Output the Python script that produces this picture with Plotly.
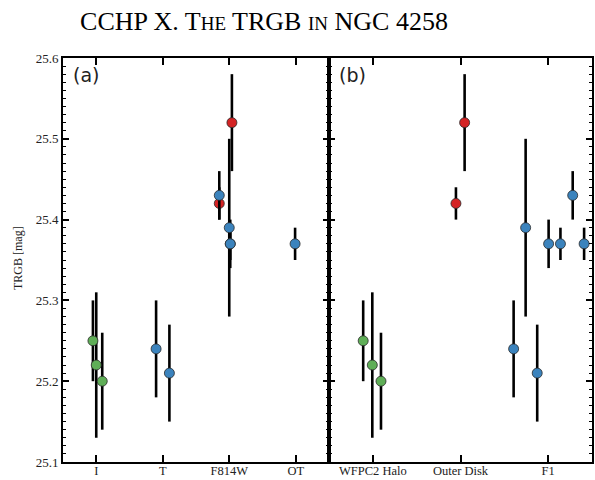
import plotly.graph_objects as go

# panel (a): grouped by filter / method
a_categories = ["I", "T", "F814W", "OT"]
# panel (b): grouped by field
b_categories = ["WFPC2 Halo", "Outer Disk", "F1"]

# green points (WFPC2 halo, I band)
green_a_cat = [0, 0, 0]
green_b_cat = [0, 0, 0]
green_trgb = [25.25, 25.22, 25.20]
green_err = [0.05, 0.09, 0.06]

# red points (outer disk, F814W)
red_a_cat = [2, 2]
red_b_cat = [1, 1]
red_trgb = [25.42, 25.52]
red_err = [0.02, 0.06]

# blue points (F1 field)
blue_a_cat = [1, 1, 2, 2, 2, 2, 3]
blue_b_cat = [2, 2, 2, 2, 2, 2, 2]
blue_trgb = [25.24, 25.21, 25.43, 25.39, 25.37, 25.37, 25.37]
blue_err = [0.06, 0.06, 0.03, 0.11, 0.03, 0.02, 0.02]

# small horizontal jitter so the points do not sit on top of each other
green_a_jit = [-0.05, 0.0, 0.09]
green_b_jit = [-0.11, -0.006, 0.093]
red_a_jit = [-0.15, 0.04]
red_b_jit = [-0.052, 0.047]
blue_a_jit = [-0.10, 0.10, -0.15, 0.0, 0.015, 0.015, -0.01]
blue_b_jit = [-0.394, -0.125, 0.28, -0.257, 0.005, 0.14, 0.41]

GREEN = "#5fae57"
RED = "#d42324"
BLUE = "#3b83bd"
FONT = "Liberation Serif"


def positions(cats, jit):
    return [c + 0.5 + j for c, j in zip(cats, jit)]


def add_group(fig, x, y, err, color, xaxis):
    fig.add_trace(go.Scatter(
        x=x, y=y, mode="markers", xaxis=xaxis, yaxis="y" if xaxis == "x" else "y2",
        marker=dict(size=10, color=color, line=dict(color="#2a2a2a", width=0.8)),
        error_y=dict(type="data", array=err, color="black", thickness=2.6, width=0),
        showlegend=False, cliponaxis=False,
    ))


fig = go.Figure()

add_group(fig, positions(green_a_cat, green_a_jit), green_trgb, green_err, GREEN, "x")
add_group(fig, positions(red_a_cat, red_a_jit), red_trgb, red_err, RED, "x")
add_group(fig, positions(blue_a_cat, blue_a_jit), blue_trgb, blue_err, BLUE, "x")

add_group(fig, positions(green_b_cat, green_b_jit), green_trgb, green_err, GREEN, "x2")
add_group(fig, positions(red_b_cat, red_b_jit), red_trgb, red_err, RED, "x2")
add_group(fig, positions(blue_b_cat, blue_b_jit), blue_trgb, blue_err, BLUE, "x2")

split = (329 - 63) / 529

xcommon = dict(showline=True, linecolor="black", linewidth=2, mirror="allticks",
               ticks="inside", ticklen=7, tickwidth=1.8, tickcolor="black",
               showgrid=False, zeroline=False, automargin=False, ticklabelstandoff=-4,
               tickfont=dict(family=FONT, size=12.5, color="#222"))
ycommon = dict(range=[25.1, 25.6], showline=True, linecolor="black", linewidth=2,
               mirror="allticks", ticks="inside", ticklen=6, tickwidth=1.6,
               tickcolor="black", dtick=0.1, tick0=25.0, showgrid=False, zeroline=False,
               automargin=False,
               minor=dict(dtick=0.01, ticks="inside", ticklen=3, tickwidth=1.2,
                          tickcolor="black", showgrid=False),
               tickfont=dict(family=FONT, size=13, color="#222"))

fig.update_layout(
    width=595, height=480,
    margin=dict(l=63, r=3, t=58, b=18),
    paper_bgcolor="white", plot_bgcolor="white",
    title=dict(
        text="CCHP X. T<span style='font-size:19px'>HE</span> TRGB "
             "<span style='font-size:19px'>IN</span> NGC 4258",
        x=264 / 595, xanchor="center", y=1 - 21 / 480, yanchor="middle",
        font=dict(family=FONT, size=26, color="black"),
    ),
    xaxis=dict(domain=[0, split], range=[0, 4], tickvals=[0.5, 1.5, 2.5, 3.5],
               ticktext=a_categories, **xcommon),
    xaxis2=dict(domain=[split, 1], range=[0, 3], tickvals=[0.5, 1.5, 2.5],
                ticktext=b_categories, anchor="y2", **xcommon),
    yaxis=dict(anchor="x", **ycommon),
    yaxis2=dict(anchor="x2", matches="y", showticklabels=False, **ycommon),
    annotations=[
        dict(text="(a)", x=0.015, y=0.99, xref="paper", yref="paper",
             xanchor="left", yanchor="top", showarrow=False,
             font=dict(family="DejaVu Sans", size=19, color="#222")),
        dict(text="(b)", x=split + 0.015, y=0.99, xref="paper", yref="paper",
             xanchor="left", yanchor="top", showarrow=False,
             font=dict(family="DejaVu Sans", size=19, color="#222")),
        dict(text="TRGB [mag]", x=-(63 - 18) / 529, y=(462 - 258) / 404,
             xref="paper", yref="paper", textangle=-90, showarrow=False,
             xanchor="center", yanchor="middle",
             font=dict(family=FONT, size=12, color="#222")),
    ],
)

# drop the default page margin so the figure sits at the window's corner
fig.write_html("out.html", config={"displayModeBar": False},
               post_script="document.body.style.margin = '0';")
